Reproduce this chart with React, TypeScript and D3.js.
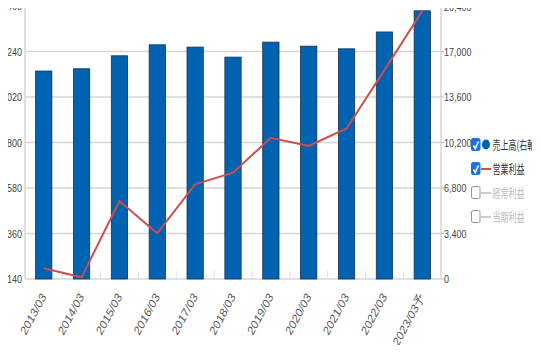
import React, { useEffect, useRef } from 'react';
import * as d3 from 'd3';

const periods = ['2013/03', '2014/03', '2015/03', '2016/03', '2017/03', '2018/03', '2019/03', '2020/03', '2021/03', '2022/03', '2023/03予'];
const sales = [15540, 15710, 16680, 17500, 17330, 16580, 17700, 17400, 17200, 18460, 20040];
const opProfit = [192, 148, 517, 361, 598, 654, 823, 783, 868, 1150, 1436];
const leftTicks = [140, 360, 580, 800, 1020, 1240, 1460];
const rightTicks = [0, 3400, 6800, 10200, 13600, 17000, 20400];
const legendItems = [
  { label: '売上高(右軸)', on: true, kind: 'dot' },
  { label: '営業利益', on: true, kind: 'line' },
  { label: '経常利益', on: false, kind: 'line' },
  { label: '当期利益', on: false, kind: 'line' },
];

const App = () => {
  const svgRef = useRef<SVGSVGElement>(null);

  useEffect(() => {
    const w = 540, h = 353;
    const svg = d3.select(svgRef.current);
    svg.selectAll('*').remove();
    svg.attr('width', w).attr('height', h).style('display', 'block');

    const left = 25, right = 441, top = 6, bottom = 279;
    const font = '"Liberation Sans", Arial, sans-serif';
    const sx = 0.78; // the chart text is squeezed sideways

    const x = d3.scaleBand().domain(periods).range([left, right]).paddingInner(0.57).paddingOuter(0.28);
    const yL = d3.scaleLinear().domain([140, 1460]).range([bottom, top]);
    const yR = d3.scaleLinear().domain([0, 20400]).range([bottom, top]);

    // gridlines
    svg.append('g')
      .selectAll('line')
      .data(leftTicks.slice(1))
      .join('line')
      .attr('x1', left).attr('x2', right)
      .attr('y1', d => yL(d)).attr('y2', d => yL(d))
      .attr('stroke', '#d6d6d6').attr('stroke-width', 1.5);

    // axis lines
    svg.append('line').attr('x1', left).attr('x2', left).attr('y1', top).attr('y2', bottom).attr('stroke', '#d6d6d6').attr('stroke-width', 1.5);
    svg.append('line').attr('x1', right).attr('x2', right).attr('y1', top).attr('y2', bottom).attr('stroke', '#d6d6d6').attr('stroke-width', 1.5);
    svg.append('line').attr('x1', left).attr('x2', right).attr('y1', bottom).attr('y2', bottom).attr('stroke', '#d6d6d6').attr('stroke-width', 1.5);

    // category ticks between bars
    const gap = (x.step() - x.bandwidth()) / 2;
    svg.append('g')
      .selectAll('line')
      .data(periods.slice(1))
      .join('line')
      .attr('x1', d => x(d)! - gap)
      .attr('x2', d => x(d)! - gap)
      .attr('y1', bottom - 8).attr('y2', bottom)
      .attr('stroke', '#e0e0e0').attr('stroke-width', 1);

    // bars
    svg.append('g')
      .selectAll('rect')
      .data(sales)
      .join('rect')
      .attr('x', (d, i) => x(periods[i])!)
      .attr('y', d => yR(d))
      .attr('width', x.bandwidth())
      .attr('height', d => bottom - yR(d))
      .attr('fill', '#0063b1')
      .attr('stroke', '#1b3050').attr('stroke-width', 0.8);

    // line
    const line = d3.line<number>()
      .x((d, i) => x(periods[i])! + x.bandwidth() / 2)
      .y(d => yL(d));
    svg.append('path')
      .datum(opProfit)
      .attr('d', line)
      .attr('fill', 'none')
      .attr('stroke', '#c9504b')
      .attr('stroke-width', 2);

    // left axis labels
    svg.append('g')
      .selectAll('text')
      .data(leftTicks)
      .join('text')
      .attr('transform', d => `translate(22,${Math.max(yL(d) + 4, 10)}) scale(${sx},1)`)
      .attr('text-anchor', 'end')
      .attr('font-family', font).attr('font-size', 11.5).attr('fill', '#444')
      .text(d => d3.format(',')(d));

    // right axis ticks + labels
    svg.append('g')
      .selectAll('line')
      .data(rightTicks)
      .join('line')
      .attr('x1', right).attr('x2', right + 3)
      .attr('y1', d => yR(d)).attr('y2', d => yR(d))
      .attr('stroke', '#bbb');
    svg.append('g')
      .selectAll('text')
      .data(rightTicks)
      .join('text')
      .attr('transform', d => `translate(${right + 3},${Math.max(yR(d) + 4, 11)}) scale(${sx},1)`)
      .attr('font-family', font).attr('font-size', 11.5).attr('fill', '#444')
      .text(d => d3.format(',')(d));

    // x labels
    svg.append('g')
      .selectAll('text')
      .data(periods)
      .join('text')
      .attr('transform', d => `translate(${x(d)! + x.bandwidth() / 2 + 3},${bottom + 18}) scale(0.8,1) rotate(-56)`)
      .attr('text-anchor', 'end')
      .attr('font-family', font).attr('font-size', 13).attr('fill', '#5a5a5a')
      .text(d => d);

    // legend
    const lg = svg.append('g').attr('transform', 'translate(471,145)');
    const rows = lg.selectAll('g').data(legendItems).join('g')
      .attr('transform', (d, i) => `translate(0,${i * 24})`);
    rows.append('rect')
      .attr('x', 0.5).attr('y', -6.5).attr('width', 8.5).attr('height', 12).attr('rx', 1.5)
      .attr('fill', d => d.on ? '#1a73e8' : '#fff')
      .attr('stroke', d => d.on ? '#1a73e8' : '#999').attr('stroke-width', 1);
    rows.filter(d => d.on).append('path')
      .attr('d', 'M2.5,0.5 L4.3,3.5 L7.5,-3.5')
      .attr('fill', 'none').attr('stroke', '#fff').attr('stroke-width', 1.6);
    rows.filter(d => d.kind === 'dot').append('ellipse')
      .attr('cx', 15).attr('cy', -0.5).attr('rx', 4).attr('ry', 5).attr('fill', '#0063b1');
    rows.filter(d => d.kind === 'line').append('line')
      .attr('x1', 10).attr('x2', 20).attr('y1', 0).attr('y2', 0)
      .attr('stroke', d => d.on ? '#c9504b' : '#ccc').attr('stroke-width', 2);
    rows.append('text')
      .attr('transform', 'translate(21.5,5) scale(0.67,1)')
      .attr('font-family', '"Noto Sans CJK JP", sans-serif').attr('font-size', 12)
      .attr('fill', d => d.on ? '#333' : '#bbb')
      .text(d => d.label);
  }, []);

  return (
    <div style={{ margin: -8 }}>
      <svg ref={svgRef}></svg>
    </div>
  );
};

export default App;
